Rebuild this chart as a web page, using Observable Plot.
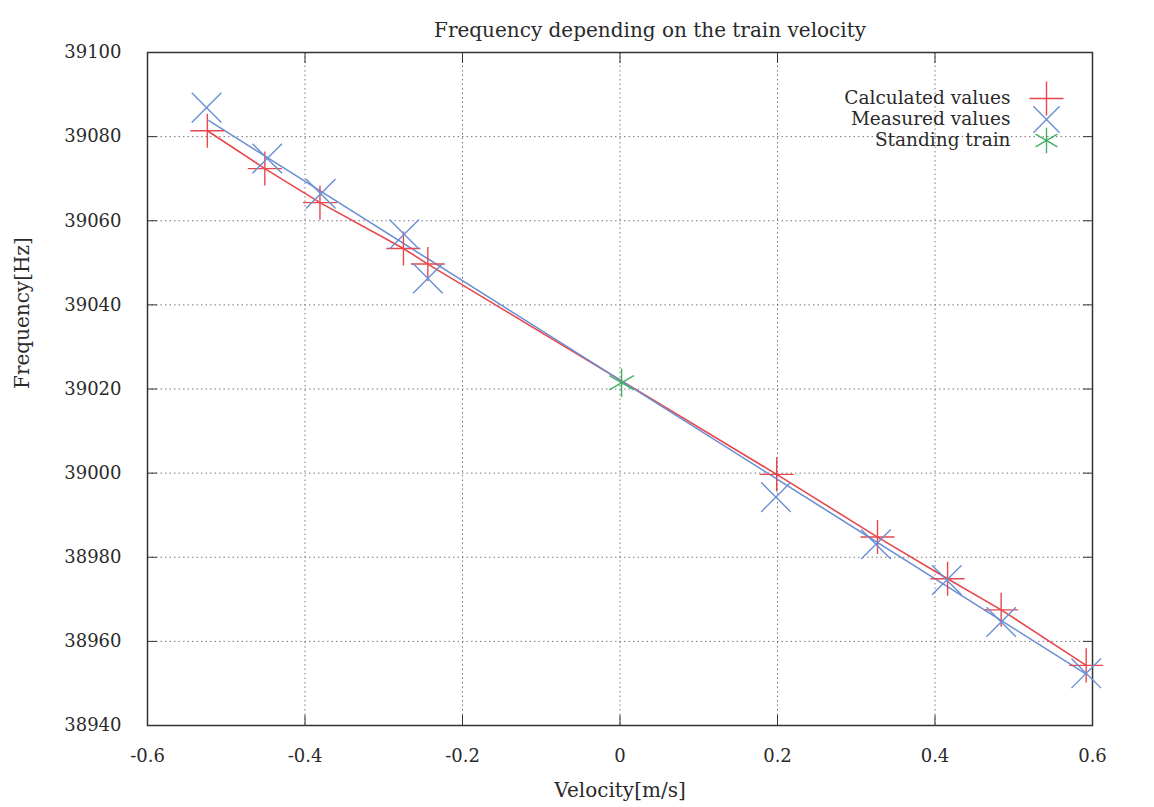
<!DOCTYPE html>
<html>
<head>
<meta charset="utf-8">
<script src="https://cdn.jsdelivr.net/npm/d3@7"></script>
<script src="https://cdn.jsdelivr.net/npm/@observablehq/plot@0.6"></script>
<style>
  body { margin: 0; background: #fff; }
  #chart svg { display: block; }
</style>
</head>
<body>
<div id="chart"></div>
<script>
// ---- data ----
const titleText = "Frequency depending on the train velocity";
const xLabel = "Velocity[m/s]";
const yLabel = "Frequency[Hz]";

const xTicks = [-0.6, -0.4, -0.2, 0, 0.2, 0.4, 0.6];
const yTicks = [38940, 38960, 38980, 39000, 39020, 39040, 39060, 39080, 39100];

// Calculated values (red +), joined by a line
const calcV = [-0.524, -0.451, -0.381, -0.275, -0.244, 0.199, 0.327, 0.416, 0.484, 0.592];
const calcF = [39081.4, 39072.4, 39064.3, 39053.4, 39049.7, 38999.7, 38984.8, 38974.9, 38967.5, 38954.3];

// Measured values (blue x)
const measV = [-0.525, -0.448, -0.380, -0.274, -0.244, 0.198, 0.325, 0.415, 0.484, 0.592];
const measF = [39086.9, 39074.8, 39066.4, 39056.8, 39046.3, 38994.3, 38983.1, 38974.6, 38964.6, 38952.4];

const measLineV = [-0.522, 0.592];
const measLineF = [39083.8, 38952.2];

// Standing train (green asterisk)
const standV = [0.002];
const standF = [39021.5];

const legendLabels = ["Calculated values", "Measured values", "Standing train"];

// ---- build tables ----
const calc = calcV.map((v, i) => ({v, f: calcF[i]}));
const meas = measV.map((v, i) => ({v, f: measF[i]}));
const measLine = measLineV.map((v, i) => ({v, f: measLineF[i]}));
const stand = standV.map((v, i) => ({v, f: standF[i]}));

const RED = "#e8474b";
const BLUE = "#6a8fd3";
const GREEN = "#45b064";
const FONT = "'DejaVu Serif', 'Liberation Serif', serif";
const INK = "#2a2a2a";

const fmtX = d => d === 0 ? "0" : d.toFixed(1);
const legendSymbols = ["plus", "times", "asterisk"];
const legendColors = [RED, BLUE, GREEN];
const legendR = [11, 12, 12];
const legendRowDy = [46, 67, 88];

const legendMarks = legendLabels.flatMap((label, i) => [
  Plot.text([label], {text: d => d, frameAnchor: "top-right", lineAnchor: "middle", dx: -82, dy: legendRowDy[i],
    textAnchor: "end", fontSize: 18.5, fill: INK}),
  Plot.dot([label], {frameAnchor: "top-right", dx: -46, dy: legendRowDy[i],
    symbol: legendSymbols[i], r: legendR[i], stroke: legendColors[i], strokeWidth: 1.4})
]);

const chart = Plot.plot({
  width: 1154,
  height: 807,
  marginLeft: 147,
  marginRight: 62,
  marginTop: 52,
  marginBottom: 82,
  style: {fontFamily: FONT, fontSize: "18px", color: INK, background: "#fff", overflow: "visible"},
  x: {domain: [-0.6, 0.6], label: null},
  y: {domain: [38940, 39100], label: null},
  marks: [
    Plot.gridX(xTicks, {stroke: "#777", strokeOpacity: 1, strokeDasharray: "1.5,3"}),
    Plot.gridY(yTicks, {stroke: "#777", strokeOpacity: 1, strokeDasharray: "1.5,3"}),
    Plot.frame({stroke: "#333", strokeWidth: 1.5}),
    Plot.axisX(xTicks, {anchor: "bottom", tickSize: -10, tickPadding: 34, tickFormat: fmtX, stroke: "#333", fontSize: 18}),
    Plot.axisX(xTicks, {anchor: "top", tickSize: -10, tickFormat: () => "", stroke: "#333"}),
    Plot.axisY(yTicks, {anchor: "left", tickSize: -10, tickPadding: 36, tickFormat: d => String(d), stroke: "#333", fontSize: 18}),
    Plot.axisY(yTicks, {anchor: "right", tickSize: -10, tickFormat: () => "", stroke: "#333"}),

    Plot.line(calc, {x: "v", y: "f", stroke: RED, strokeWidth: 1.6}),
    Plot.line(measLine, {x: "v", y: "f", stroke: BLUE, strokeWidth: 1.6}),
    Plot.dot(calc, {x: "v", y: "f", symbol: "plus", r: 11, stroke: RED, strokeWidth: 1.4}),
    Plot.dot(meas, {x: "v", y: "f", symbol: "times", r: 13.5, stroke: BLUE, strokeWidth: 1.4}),
    Plot.dot(stand, {x: "v", y: "f", symbol: "asterisk", r: 13.5, stroke: GREEN, strokeWidth: 1.4}),

    ...legendMarks,

    // titles
    Plot.text([titleText], {text: d => d, frameAnchor: "top", lineAnchor: "middle", dx: 30, dy: -22, fontSize: 20, fill: INK}),
    Plot.text([xLabel], {text: d => d, frameAnchor: "bottom", lineAnchor: "middle", dy: 65, fontSize: 20, fill: INK}),
    Plot.text([yLabel], {text: d => d, frameAnchor: "left", dx: -125, rotate: -90, fontSize: 20, fill: INK})
  ]
});

document.getElementById("chart").appendChild(chart);
</script>
</body>
</html>
